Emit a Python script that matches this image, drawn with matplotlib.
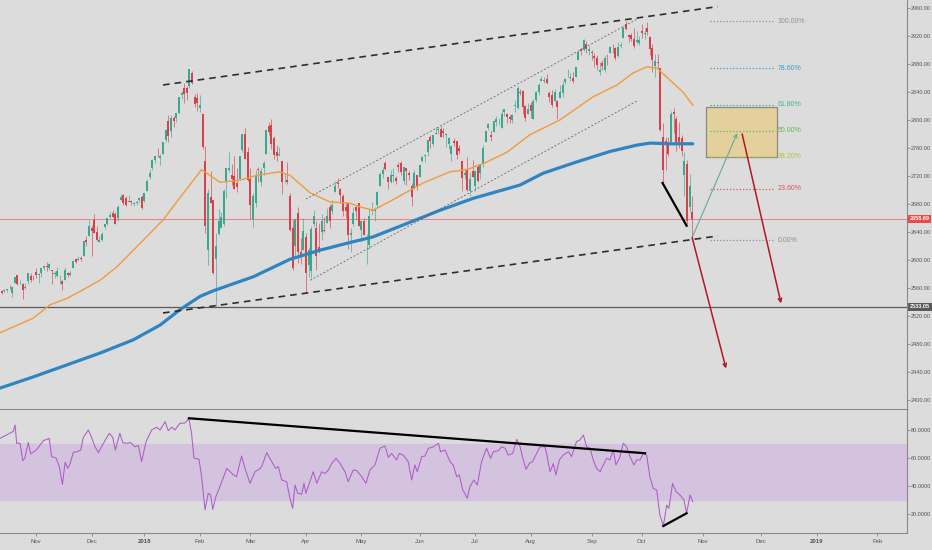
import numpy as np
import matplotlib
matplotlib.use("Agg")
import matplotlib.pyplot as plt
import matplotlib.transforms as mtransforms

plt.rcParams['font.family'] = ['Liberation Sans', 'DejaVu Sans']

# daily candles, bar index 0 = 13 Oct 2017 ... 261 = 26 Oct 2018
opens = [
    # Oct 2017
    2555, 2555, 2557, 2562, 2553, 2567, 2578, 2568, 2566, 2560, 2570, 2577, 2576,
    # Nov
    2583, 2579, 2581, 2588, 2592, 2588, 2585, 2580, 2577, 2578, 2570, 2572, 2582, 2579, 2589, 2601, 2600, 2603, 2605, 2628, 2634,
    # Dec
    2645, 2657, 2640, 2626, 2628, 2647, 2652, 2662, 2667, 2665, 2660, 2685, 2693, 2689, 2683, 2684, 2680, 2682, 2686, 2690,
    # Jan 2018
    2684, 2698, 2719, 2731, 2743, 2752, 2745, 2752, 2771, 2798, 2784, 2803, 2803, 2810, 2835, 2845, 2846, 2848, 2867, 2833, 2832,
    # Feb
    2817, 2809, 2741, 2614, 2690, 2686, 2601, 2637, 2646, 2651, 2713, 2728, 2722, 2720, 2710, 2716, 2757, 2780, 2754,
    # Mar
    2716, 2659, 2681, 2730, 2711, 2732, 2752, 2791, 2793, 2774, 2754, 2750, 2741, 2715, 2714, 2692, 2646, 2620, 2667, 2611, 2614,
    # Apr
    2633, 2593, 2584, 2652, 2645, 2618, 2640, 2643, 2653, 2675, 2670, 2697, 2710, 2702, 2692, 2675, 2680, 2635, 2651, 2675, 2682,
    # May
    2643, 2655, 2628, 2621, 2670, 2670, 2678, 2705, 2723, 2738, 2718, 2712, 2720, 2717, 2735, 2738, 2713, 2731, 2724, 2705, 2702, 2721,
    # Jun
    2718, 2742, 2749, 2754, 2775, 2765, 2780, 2785, 2787, 2784, 2778, 2765, 2752, 2770, 2770, 2760, 2742, 2722, 2729, 2698, 2727,
    # Jul
    2705, 2733, 2724, 2738, 2768, 2789, 2779, 2783, 2797, 2798, 2789, 2811, 2809, 2804, 2800, 2820, 2817, 2840, 2842, 2820, 2809,
    # Aug
    2822, 2802, 2829, 2840, 2855, 2856, 2858, 2838, 2835, 2827, 2827, 2831, 2838, 2854, 2861, 2860, 2860, 2862, 2885, 2901, 2900, 2909, 2898,
    # Sep
    2897, 2892, 2889, 2868, 2882, 2871, 2889, 2896, 2906, 2903, 2891, 2906, 2917, 2937, 2922, 2921, 2916, 2911, 2910,
    # Oct
    2927, 2923, 2931, 2919, 2903, 2877, 2883, 2874, 2776, 2770, 2764, 2768, 2811, 2802, 2775, 2774, 2721, 2737, 2675, 2668,
]
highs = [
    2557, 2559, 2559, 2564, 2563, 2575, 2578, 2572, 2567, 2567, 2582, 2581, 2578,
    2588, 2582, 2588, 2593, 2597, 2595, 2586, 2584, 2590, 2579, 2572, 2590, 2583, 2584, 2600, 2603, 2605, 2606, 2627, 2634, 2657,
    2650, 2665, 2648, 2634, 2640, 2652, 2660, 2669, 2672, 2669, 2679, 2694, 2694, 2692, 2693, 2685, 2683, 2685, 2688, 2693,
    2696, 2715, 2730, 2744, 2749, 2760, 2751, 2768, 2787, 2807, 2807, 2806, 2810, 2833, 2842, 2853, 2849, 2873, 2870, 2837, 2839,
    2836, 2809, 2763, 2701, 2727, 2686, 2638, 2673, 2668, 2702, 2731, 2754, 2737, 2748, 2731, 2748, 2780, 2789, 2762,
    2731, 2695, 2729, 2733, 2731, 2741, 2786, 2797, 2801, 2777, 2764, 2762, 2741, 2724, 2740, 2695, 2657, 2659, 2675, 2632, 2660,
    2638, 2619, 2649, 2672, 2656, 2653, 2665, 2662, 2674, 2680, 2686, 2713, 2717, 2703, 2694, 2683, 2683, 2645, 2676, 2677, 2682,
    2655, 2660, 2637, 2673, 2683, 2676, 2698, 2726, 2733, 2742, 2718, 2728, 2732, 2720, 2740, 2742, 2733, 2732, 2727, 2710, 2729, 2722,
    2737, 2749, 2752, 2772, 2779, 2779, 2790, 2790, 2791, 2789, 2782, 2775, 2763, 2774, 2770, 2764, 2742, 2732, 2747, 2725, 2743,
    2727, 2737, 2737, 2764, 2784, 2796, 2785, 2799, 2805, 2803, 2814, 2816, 2810, 2808, 2809, 2829, 2848, 2844, 2843, 2821, 2824,
    2826, 2830, 2841, 2853, 2863, 2862, 2865, 2842, 2843, 2844, 2828, 2850, 2855, 2860, 2873, 2867, 2868, 2876, 2898, 2903, 2916, 2913, 2906,
    2900, 2895, 2893, 2883, 2886, 2893, 2894, 2906, 2908, 2904, 2911, 2912, 2934, 2941, 2923, 2924, 2931, 2927, 2920,
    2937, 2932, 2940, 2920, 2909, 2894, 2894, 2874, 2795, 2776, 2775, 2813, 2817, 2806, 2797, 2778, 2754, 2743, 2723, 2692,
]
lows = [
    2552, 2554, 2554, 2559, 2547, 2567, 2564, 2566, 2544, 2559, 2566, 2569, 2571,
    2574, 2567, 2576, 2585, 2584, 2585, 2566, 2574, 2576, 2566, 2557, 2572, 2576, 2577, 2589, 2596, 2600, 2599, 2605, 2620, 2634,
    2606, 2639, 2627, 2625, 2627, 2644, 2650, 2660, 2662, 2651, 2656, 2685, 2679, 2677, 2683, 2678, 2677, 2678, 2683, 2673,
    2683, 2698, 2716, 2728, 2738, 2747, 2736, 2752, 2769, 2768, 2775, 2790, 2797, 2809, 2830, 2824, 2828, 2846, 2852, 2818, 2813,
    2812, 2759, 2638, 2593, 2681, 2580, 2533, 2635, 2645, 2648, 2689, 2725, 2707, 2701, 2697, 2716, 2754, 2744, 2713,
    2659, 2647, 2676, 2711, 2705, 2722, 2752, 2779, 2758, 2744, 2741, 2749, 2694, 2710, 2709, 2641, 2586, 2603, 2596, 2594, 2614,
    2553, 2575, 2574, 2649, 2586, 2610, 2629, 2640, 2653, 2645, 2665, 2697, 2703, 2682, 2663, 2660, 2616, 2612, 2648, 2659, 2648,
    2626, 2635, 2594, 2615, 2664, 2655, 2675, 2705, 2717, 2729, 2702, 2710, 2712, 2709, 2726, 2721, 2708, 2707, 2714, 2677, 2702, 2700,
    2718, 2740, 2740, 2748, 2760, 2763, 2780, 2780, 2775, 2776, 2762, 2758, 2741, 2763, 2744, 2752, 2699, 2715, 2699, 2692, 2718,
    2698, 2712, 2716, 2733, 2768, 2786, 2770, 2783, 2792, 2793, 2789, 2805, 2796, 2795, 2795, 2811, 2815, 2835, 2809, 2799, 2808,
    2803, 2801, 2825, 2836, 2855, 2853, 2852, 2825, 2819, 2827, 2802, 2831, 2833, 2852, 2861, 2856, 2853, 2862, 2885, 2893, 2898, 2895, 2893,
    2885, 2876, 2872, 2864, 2872, 2869, 2879, 2896, 2896, 2886, 2890, 2903, 2917, 2928, 2912, 2913, 2903, 2909, 2907,
    2917, 2916, 2921, 2893, 2869, 2862, 2874, 2784, 2710, 2729, 2749, 2768, 2782, 2755, 2760, 2749, 2691, 2651, 2669, 2628,
]
closes = [
    2553, 2557, 2559, 2561, 2562, 2575, 2565, 2569, 2557, 2560, 2581, 2572, 2575,
    2579, 2580, 2588, 2591, 2590, 2594, 2584, 2582, 2584, 2579, 2565, 2586, 2578, 2582, 2599, 2597, 2602, 2601, 2627, 2626, 2648,
    2642, 2639, 2629, 2629, 2637, 2652, 2660, 2664, 2662, 2652, 2676, 2690, 2681, 2679, 2684, 2683, 2680, 2682, 2688, 2674,
    2696, 2713, 2724, 2743, 2748, 2751, 2748, 2768, 2786, 2777, 2803, 2798, 2810, 2833, 2839, 2837, 2839, 2873, 2853, 2823, 2824,
    2822, 2762, 2649, 2695, 2682, 2581, 2620, 2656, 2662, 2698, 2731, 2732, 2716, 2701, 2704, 2748, 2780, 2744, 2714,
    2678, 2691, 2720, 2728, 2727, 2739, 2786, 2783, 2766, 2750, 2748, 2752, 2712, 2716, 2711, 2643, 2588, 2658, 2612, 2605, 2641,
    2582, 2614, 2644, 2663, 2605, 2614, 2656, 2642, 2663, 2656, 2678, 2706, 2708, 2693, 2670, 2670, 2635, 2639, 2667, 2670, 2648,
    2655, 2636, 2630, 2663, 2672, 2672, 2697, 2723, 2728, 2730, 2711, 2722, 2720, 2713, 2733, 2725, 2733, 2727, 2721, 2690, 2724, 2705,
    2735, 2747, 2749, 2772, 2770, 2779, 2782, 2787, 2776, 2782, 2780, 2774, 2763, 2767, 2750, 2755, 2717, 2724, 2700, 2716, 2718,
    2727, 2713, 2736, 2760, 2784, 2794, 2775, 2798, 2801, 2798, 2809, 2815, 2804, 2802, 2807, 2821, 2846, 2838, 2819, 2803, 2816,
    2813, 2827, 2840, 2850, 2858, 2857, 2853, 2833, 2821, 2840, 2819, 2840, 2850, 2858, 2862, 2861, 2856, 2875, 2897, 2898, 2914, 2901, 2902,
    2896, 2888, 2878, 2872, 2877, 2888, 2888, 2904, 2905, 2889, 2904, 2907, 2931, 2930, 2919, 2916, 2906, 2914, 2914,
    2924, 2923, 2926, 2902, 2886, 2884, 2881, 2786, 2728, 2768, 2751, 2809, 2809, 2769, 2768, 2756, 2741, 2656, 2706, 2658.69,
]

# moving averages (bar index, price)
ma50_x = [-0.6, 12.0, 18.3, 24.6, 29.6, 37.2, 43.5, 49.8, 61.0, 67.4, 75.6, 82.5, 90.1, 96.4, 105.2, 109.0, 116.6,
          124.1, 131.7, 135.4, 140.4, 147.9, 159.3, 169.5, 175.9, 183.4, 191.0, 199.7, 211.0, 223.5, 232.6, 238.6,
          243.9, 247.7, 252.6, 257.5, 261.3]
ma50_y = [2496, 2517, 2536, 2545, 2555, 2571, 2590, 2614, 2657, 2689, 2729, 2711, 2714, 2721, 2726, 2721, 2696,
          2683, 2681, 2676, 2671, 2686, 2710, 2726, 2729, 2740, 2754, 2779, 2800, 2833, 2850, 2867,
          2876, 2874, 2857, 2840, 2821]
ma200_x = [-0.6, 12.0, 24.6, 37.2, 49.8, 59.9, 67.4, 75.0, 80.0, 95.1, 109.0, 120.3, 131.7, 140.4, 153.1, 165.7,
           178.2, 195.9, 204.7, 217.3, 229.9, 240.0, 245.1, 252.6, 261.2]
ma200_y = [2417, 2433, 2450, 2467, 2486, 2507, 2529, 2548, 2556, 2576, 2601, 2614, 2625, 2633, 2652, 2671,
           2688, 2707, 2724, 2740, 2755, 2764, 2767, 2766, 2766]

# RSI
rsi_x = [-0.6, 4.4, 5.1, 5.7, 7.0, 8.0, 8.8, 10.1, 11.0, 13.3, 15.8, 18.0, 18.9, 20.6, 21.8, 23.0, 24.0, 25.0,
         25.9, 27.1, 28.6, 29.9, 30.9, 32.8, 34.0, 35.3, 36.6, 38.5, 40.7, 42.0, 43.0, 44.7, 45.8, 47.3, 48.8,
         50.4, 51.7, 52.9, 54.6, 56.7, 58.6, 59.9, 61.8, 63.0, 64.3, 65.5, 67.4, 69.3, 70.8, 71.8, 72.7, 74.6,
         75.6, 76.9, 78.1, 79.0, 79.8, 81.0, 82.5, 85.1, 87.6, 88.8, 90.7, 92.0, 93.9, 95.8, 97.4, 98.3, 100.2,
         102.1, 103.6, 104.6, 105.9, 107.7, 109.0, 110.0, 110.9, 111.9, 113.4, 114.3, 115.0, 116.3, 117.8, 119.1,
         121.0, 122.2, 123.5, 124.8, 126.4, 127.9, 129.8, 131.0, 132.9, 134.2, 136.1, 137.7, 139.2, 141.1, 143.0,
         144.9, 146.2, 147.4, 149.3, 150.3, 151.8, 153.7, 155.0, 156.2, 157.1, 158.8, 160.0, 161.3, 163.2, 165.1,
         165.9, 167.6, 169.5,
         170.7, 172.0, 173.0, 174.3, 175.1, 176.0, 177.0, 178.5, 179.8, 181.4, 183.3, 184.8, 185.9, 187.7, 189.0,
         190.3, 191.5, 193.2, 194.7, 196.0, 197.0, 198.2, 199.5, 200.7, 202.2, 203.5, 205.4, 206.2, 207.3, 208.5,
         209.5, 210.8, 212.3, 214.2, 215.4, 217.3, 218.6, 219.9, 221.1, 222.4, 223.6, 224.9, 226.2, 227.4, 228.7,
         229.9, 231.2, 232.2, 233.5, 235.0, 236.2, 237.5, 239.0, 240.0, 241.3, 242.5, 243.8, 245.0, 246.3, 247.6,
         248.8, 250.1, 251.4, 252.2, 253.6, 254.9, 256.4, 257.9, 258.9, 260.2, 261.2]
rsi_y = [74, 79, 83.6, 70.5, 70.5, 58, 60, 71, 63, 66, 72.4, 74, 61, 60, 54, 41, 57, 52.6,
         56, 64, 64.5, 65.7, 74.8, 80, 74.8, 68, 64, 70.5, 77.6, 74.8, 65.7, 77.6, 71, 70.5, 71,
         68, 69, 57.4, 71.7, 80, 82, 80, 86, 79.5, 82, 80, 84.8, 85, 88.3, 77.6, 60, 59,
         46.7, 22.9, 34.8, 33.6, 23.3, 32.4, 39.5, 52.6, 47.9, 46.7, 61.4, 52.6, 41.9, 50.2, 52, 53.8, 63.8,
         57.4, 52.6, 53.8, 44.3, 43.1, 31.2, 24, 40.7, 34.8, 34.1, 41.9, 34.8, 41.9, 50.2, 41.9,
         50.2, 49, 51.4, 56.2, 59.8, 56.2, 50.2, 43.1, 51.4, 51, 46.7, 41.9, 51.4, 55, 66.9,
         68.6, 60.5, 63.3, 58.6, 63.3, 62, 57.4, 44.3, 55, 50.2, 61, 61.4, 66.9, 68, 70.5,
         64.5, 65.7, 57.4,
         55, 46.7, 47.9, 37, 34.8, 31.2, 39.5, 44.3, 40.7, 57.4, 66.9, 59.8, 64.5, 65.2, 68,
         67, 62.1, 63.3, 73.3, 68, 59.8, 51.9, 56.2, 57.4, 63.3, 68, 68, 61, 50.2, 56,
         47.9, 58.6, 62.1, 64.5, 61, 71.7, 72.9, 76.4, 68, 67, 58.6, 52.6, 50.2, 55, 59.8,
         58.6, 65.7, 55, 59.8, 70.5, 68, 61, 55, 58.6, 58.6, 63.3, 62.1, 46.7, 38.3, 37.1,
         19.3, 11.4, 26.4, 24, 41.9, 36, 33.6, 30, 20.5, 33.6, 28.8]

month_pos = [13, 34, 54, 75, 94, 115, 136, 158, 179, 200, 223, 242, 265, 287, 308, 331]
month_lbl = ["Nov", "Dec", "2018", "Feb", "Mar", "Apr", "May", "Jun", "Jul", "Aug", "Sep", "Oct",
             "Nov", "Dec", "2019", "Feb"]
price_ticks = list(range(2400, 2961, 40))
rsi_ticks = [20, 40, 60, 80]

last_price = 2658.69
support = 2533.05
fib_hi, fib_lo = 2940.91, 2628.16
fib_levels = [1.0, 0.786, 0.618, 0.5, 0.382, 0.236, 0.0]
fib_colors = ['#8f8f8f', '#3f9ad0', '#3db48e', '#5cbd48', '#a9c93e', '#e0525a', '#8f8f8f']

BG = '#dcdcdc'
UP = '#38a890'
DN = '#d8404b'
TXT = '#555555'
FS = 4.0      # axis labels
FS_FIB = 5.0  # fib level labels

fig = plt.figure(figsize=(9.32, 5.5), dpi=100, facecolor=BG)
W, H = 932.0, 550.0
ax = fig.add_axes([0, (H - 410) / H, 907 / W, 410 / H], facecolor=BG)
ax2 = fig.add_axes([0, (H - 533) / H, 907 / W, 123 / H], facecolor=BG, sharex=ax)

x = np.arange(len(closes))
o = np.array(opens, float)
h = np.array(highs, float)
l = np.array(lows, float)
c = np.array(closes, float)
cols = np.where(c >= o, UP, DN)

ax.vlines(x, l, h, colors=cols, lw=0.6, alpha=0.75, zorder=3)
ax.bar(x, np.maximum(np.abs(c - o), 1.0), bottom=np.minimum(o, c), width=0.76,
       color=cols, edgecolor='none', zorder=4)

ax.plot(ma50_x, ma50_y, color='#f29a3c', lw=1.0, zorder=5)
ax.plot(ma200_x, ma200_y, color='#2f84c2', lw=2.3, zorder=5, solid_capstyle='round')

# horizontal levels
ax.axhline(last_price, color='#f07070', lw=0.6, zorder=2)
ax.axhline(support, color='#5a5a5a', lw=0.9, zorder=2)

# channel drawings
ax.plot([61.0, 270.7], [2850, 2962], color='#2e2e2e', lw=1.2, dashes=(4, 3), zorder=6)
ax.plot([61.0, 270.7], [2524.3, 2634.3], color='#2e2e2e', lw=1.2, dashes=(4, 3), zorder=6)
ax.plot([115.0, 241.6], [2687, 2947], color='#5c5c5c', lw=0.55, dashes=(2.5, 2.5), zorder=6)
ax.plot([116.6, 240.1], [2571, 2827], color='#5c5c5c', lw=0.55, dashes=(2.5, 2.5), zorder=6)
ax.plot([249.8, 258.9], [2710, 2649], color='black', lw=1.6, zorder=6)

# fib retracement
ax.fill_between([266.1, 293.2], 2746.7, 2818.1, color='#e6cf97', alpha=0.9, zorder=1)
ax.plot([266.1, 293.2, 293.2, 266.1, 266.1], [2746.7, 2746.7, 2818.1, 2818.1, 2746.7],
        color='#8a8a8a', lw=0.9, zorder=2)
for lev, col in zip(fib_levels, fib_colors):
    p = fib_lo + (fib_hi - fib_lo) * lev
    ax.plot([267.7, 291.9], [p, p], color=col, lw=0.9, linestyle=(0, (1, 1.6)), zorder=3)
    ax.text(293.3, p, "%.2f%%" % (lev * 100), color=col, fontsize=FS_FIB, va='center', ha='left', zorder=3)

# projection arrows
ax.annotate('', xy=(278.0, 2781), xytext=(261.0, 2632),
            arrowprops=dict(arrowstyle='->', color='#5fae96', lw=0.8, shrinkA=0, shrinkB=0, mutation_scale=6),
            zorder=7)
ax.annotate('', xy=(273.8, 2445), xytext=(261.0, 2632),
            arrowprops=dict(arrowstyle='->', color='#b01824', lw=1.1, shrinkA=0, shrinkB=0, mutation_scale=6),
            zorder=7)
ax.annotate('', xy=(294.6, 2538), xytext=(279.9, 2780),
            arrowprops=dict(arrowstyle='->', color='#b01824', lw=1.1, shrinkA=0, shrinkB=0, mutation_scale=6),
            zorder=7)

ax.set_xlim(-0.6, 342.2)
ax.set_ylim(2385.7, 2971.4)
ax.yaxis.tick_right()
ax.set_yticks(price_ticks)
ax.set_yticklabels(["%.2f" % v for v in price_ticks])
ax.tick_params(axis='y', direction='out', length=2, width=0.5, pad=1.0, labelsize=FS,
               colors='#777777', labelcolor=TXT)
ax.tick_params(axis='x', length=0, labelbottom=False)
for s in ['top', 'left']:
    ax.spines[s].set_visible(False)
ax.spines['right'].set_color('#8a8a8a')
ax.spines['right'].set_linewidth(0.8)
ax.spines['bottom'].set_color('#6a6a6a')
ax.spines['bottom'].set_linewidth(1.1)

trans = mtransforms.blended_transform_factory(ax.transAxes, ax.transData)
ax.text(1.003, last_price, "%.2f" % last_price, transform=trans, fontsize=FS, color='white',
        fontweight='bold', va='center', ha='left', clip_on=False, zorder=10,
        bbox=dict(boxstyle='square,pad=0.3', fc='#ee4848', ec='none'))
ax.text(1.003, support, "%.2f" % support, transform=trans, fontsize=FS, color='white',
        fontweight='bold', va='center', ha='left', clip_on=False, zorder=10,
        bbox=dict(boxstyle='square,pad=0.3', fc='#5a5a5a', ec='none'))

# RSI pane
ax2.axhspan(30, 70, color='#d3c3df', zorder=0)
ax2.plot(rsi_x, rsi_y, color='#ae5cc6', lw=0.75, zorder=3)
ax2.plot([70.8, 243.2], [88.4, 63.4], color='black', lw=1.6, zorder=4)
ax2.plot([250.1, 258.9], [11.4, 20.5], color='black', lw=1.6, zorder=4)
ax2.set_ylim(6.4, 94.3)
ax2.yaxis.tick_right()
ax2.set_yticks(rsi_ticks)
ax2.set_yticklabels(["%.4f" % v for v in rsi_ticks])
ax2.tick_params(axis='y', direction='out', length=2, width=0.5, pad=1.0, labelsize=FS,
                colors='#777777', labelcolor=TXT)
ax2.set_xticks(month_pos)
ax2.set_xticklabels(month_lbl)
ax2.tick_params(axis='x', direction='out', length=2, width=0.5, pad=2.5, labelsize=FS + 0.3,
                colors='#777777', labelcolor=TXT)
for t in ax2.get_xticklabels():
    if t.get_text() in ("2018", "2019"):
        t.set_fontweight('bold')
for s in ['top', 'left']:
    ax2.spines[s].set_visible(False)
for s in ['right', 'bottom']:
    ax2.spines[s].set_color('#8a8a8a')
    ax2.spines[s].set_linewidth(0.8)

fig.savefig("out.png", dpi=100, facecolor=BG)
